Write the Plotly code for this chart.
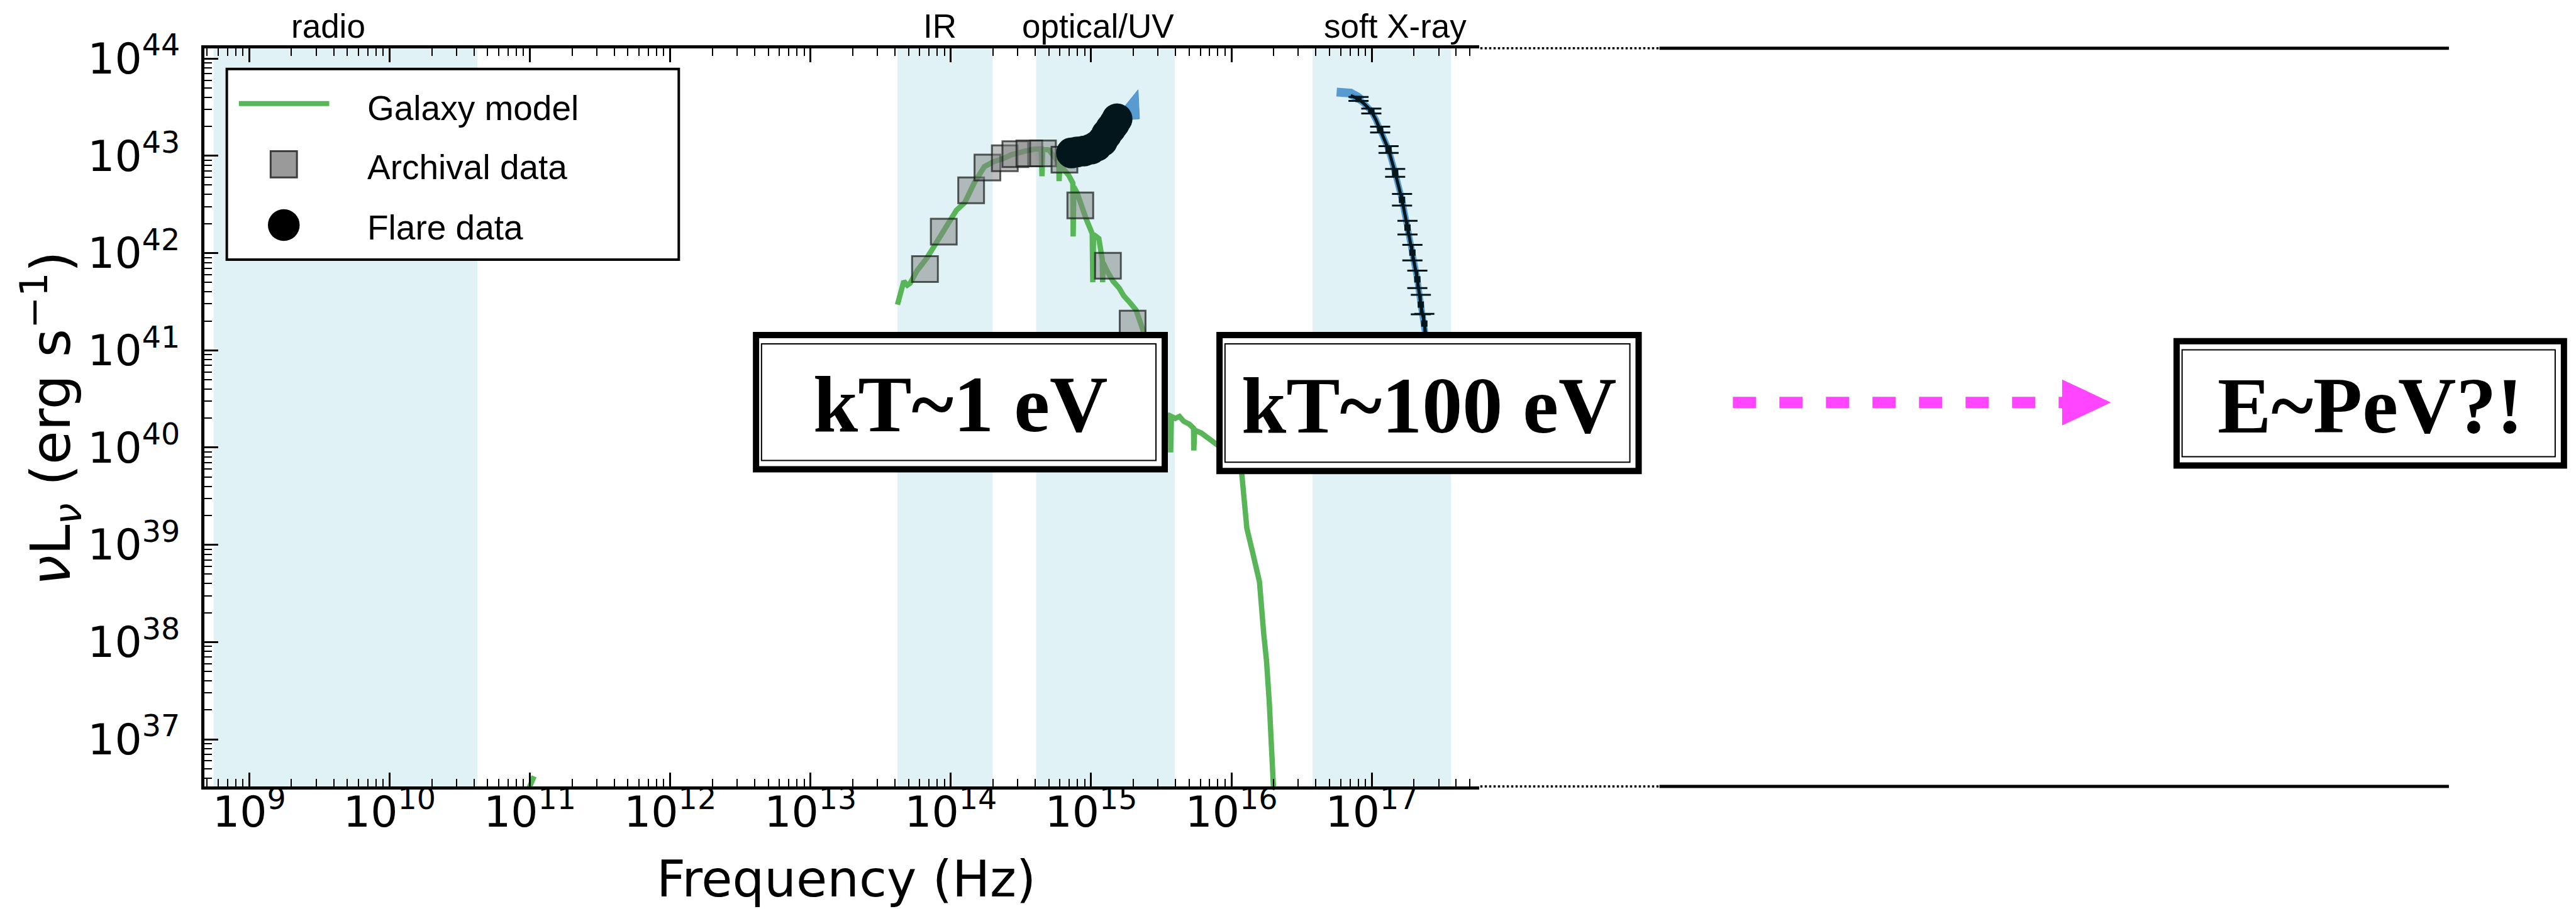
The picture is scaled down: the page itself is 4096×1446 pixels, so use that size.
import numpy as np
import plotly.graph_objects as go

nan = np.nan

# ---------------- data (log10 values) ----------------
# Galaxy model (log10 nu [Hz], log10 nuL_nu [erg/s])
galaxy_lognu = [10.96, 11.03, nan, 13.62, 13.645, 13.665, 13.69, 13.71, 13.76, 13.83, 13.92, 14.00,
                14.04, 14.10, 14.17, 14.24, 14.305, 14.37, 14.43, 14.52, 14.60, 14.645, 14.650,
                14.655, 14.70, 14.77, 14.772, 14.778, 14.84, 14.87, 14.872, 14.877, 14.90, 14.935,
                14.965, 15.008, 15.012, 15.018, 15.055, 15.08, 15.082, 15.086, 15.12, 15.157,
                15.20, 15.233, 15.277, 15.32, 15.367, 15.40, 15.45, 15.50, 15.52, 15.55, 15.565,
                15.567, 15.572, 15.60, 15.63, 15.66, 15.70, 15.73, 15.732, 15.738, 15.785, 15.83,
                15.88, 15.93, 16.00, 16.07, 16.09, 16.11, 16.15, 16.20, 16.23, 16.25, 16.27,
                16.29, 16.30, 16.31]
galaxy_logL = [36.38, 36.62, nan, 41.47, 41.58, 41.71, 41.67, 41.69, 41.82, 41.95, 42.16, 42.36,
               42.44, 42.52, 42.73, 42.89, 42.94, 42.97, 43.01, 43.045, 43.07, 43.07, 42.79,
               43.07, 43.06, 42.93, 42.74, 42.91, 42.80, 42.72, 42.17, 42.68, 42.62, 42.46,
               42.35, 42.20, 41.70, 42.19, 42.15, 41.93, 41.70, 41.90, 41.80, 41.71,
               41.64, 41.56, 41.49, 41.415, 41.22, 41.04, 40.75, 40.45, 40.34, 40.33, 40.30,
               39.95, 40.32, 40.30, 40.32, 40.27, 40.24, 40.20, 39.97, 40.18, 40.15, 40.10,
               40.06, 40.00, 39.92, 39.79, 39.45, 39.17, 38.93, 38.62, 38.09, 37.81, 37.38,
               36.85, 36.53, 36.20]

# Archival data (squares)
archival_lognu = [13.816, 13.950, 14.145, 14.261, 14.385, 14.46, 14.56, 14.657, 14.81, 14.923, 15.12, 15.296]
archival_logL = [41.836, 42.22, 42.646, 42.88, 42.975, 43.017, 43.026, 43.026, 42.96, 42.49, 41.87, 41.275]

# Flare data (optical/UV circles)
flare_lognu = [14.86, 14.90, 14.95, 15.00, 15.04, 15.08, 15.11, 15.14, 15.165, 15.185]
flare_logL = [43.03, 43.04, 43.05, 43.07, 43.10, 43.15, 43.22, 43.28, 43.33, 43.38]

# Optical/UV blackbody uncertainty (blue fan)
uvfit_lognu = [15.24, 15.335, 15.345, 15.25]
uvfit_logL = [43.51, 43.68, 43.38, 43.37]

# Soft X-ray flare data
xray_lognu = [16.906, 16.997, 17.06, 17.12, 17.167, 17.216, 17.255, 17.29, 17.325, 17.35, 17.375]
xray_logL = [43.585, 43.46, 43.27, 43.065, 42.825, 42.548, 42.262, 42.005, 41.73, 41.47, 41.275]
xray_err_dex = [0.02, 0.025, 0.03, 0.035, 0.04, 0.06, 0.07, 0.08, 0.09, 0.10, 0.10]

# Soft X-ray model line and its uncertainty band
xmodel_lognu = [16.85, 16.906, 16.95, 16.997, 17.03, 17.06, 17.09, 17.12, 17.167, 17.216, 17.255,
                17.29, 17.325, 17.35, 17.375, 17.40]
xmodel_logL = [43.62, 43.585, 43.53, 43.46, 43.37, 43.27, 43.17, 43.065, 42.825, 42.548, 42.262,
               42.005, 41.73, 41.47, 41.275, 41.00]
xband_lognu = [16.75, 16.80, 16.85, 16.90, 16.93]
xband_logL = [43.655, 43.66, 43.645, 43.605, 43.57]

# Shaded wavebands (Hz)
band_names = ["radio", "IR", "optical/UV", "soft X-ray"]
band_lo = [5.57e8, 4.17e13, 4.06e14, 3.78e16]
band_hi = [4.22e10, 1.99e14, 3.96e15, 3.68e17]
band_label_nu = [3.65e9, 8.4e13, 1.12e15, 1.47e17]

# Axis ticks
x_exponents = list(range(9, 18))
y_exponents = list(range(37, 45))

# Text boxes
box_texts = ["kT~1 eV", "kT~100 eV", "E~PeV?!"]
legend_labels = ["Galaxy model", "Archival data", "Flare data"]

# ---------------- helpers ----------------
W_REF, H_REF = 4702.0, 1660.0


def PX(x):
    return x / W_REF


def PY(y):
    return 1.0 - y / H_REF


def tenpow(a):
    return np.power(10.0, np.array(a, dtype=float))


GREEN = "rgb(88,182,88)"
BAND = "#e0f2f5"
DARK = "#03161b"
BLUE = "rgba(72,145,205,0.9)"
MAGENTA = "#ff45ff"

fig = go.Figure()

# Galaxy model
fig.add_trace(go.Scatter(x=tenpow(galaxy_lognu), y=tenpow(galaxy_logL), mode="lines",
                         line=dict(color=GREEN, width=8.5), connectgaps=False,
                         showlegend=False, hoverinfo="skip"))
# Archival squares
fig.add_trace(go.Scatter(x=tenpow(archival_lognu), y=tenpow(archival_logL), mode="markers",
                         marker=dict(symbol="square", size=41, color="rgba(128,128,128,0.5)",
                                     line=dict(color="rgba(20,25,25,0.7)", width=3)),
                         showlegend=False, hoverinfo="skip"))
# UV fit fan
fig.add_trace(go.Scatter(x=tenpow(uvfit_lognu), y=tenpow(uvfit_logL), mode="lines",
                         fill="toself", fillcolor=BLUE, line=dict(color=BLUE, width=1),
                         showlegend=False, hoverinfo="skip"))
# Flare circles
fig.add_trace(go.Scatter(x=tenpow(flare_lognu), y=tenpow(flare_logL), mode="markers",
                         marker=dict(symbol="circle", size=49, color=DARK, line=dict(width=0)),
                         showlegend=False, hoverinfo="skip"))
# X-ray model band
fig.add_trace(go.Scatter(x=tenpow(xband_lognu), y=tenpow(xband_logL), mode="lines",
                         line=dict(color=BLUE, width=14), showlegend=False, hoverinfo="skip"))
fig.add_trace(go.Scatter(x=tenpow(xmodel_lognu), y=tenpow(xmodel_logL), mode="lines",
                         line=dict(color=BLUE, width=10), showlegend=False, hoverinfo="skip"))
fig.add_trace(go.Scatter(x=tenpow(xmodel_lognu), y=tenpow(xmodel_logL), mode="lines",
                         line=dict(color=DARK, width=5), showlegend=False, hoverinfo="skip"))
# X-ray data
xl = np.array(xray_logL)
xe = np.array(xray_err_dex)
y_vals = tenpow(xl)
err_plus = y_vals * (np.power(10.0, xe) - 1.0)
err_minus = y_vals * (1.0 - np.power(10.0, -xe))
fig.add_trace(go.Scatter(x=tenpow(xray_lognu), y=y_vals, mode="markers",
                         marker=dict(symbol="square", size=10, color=DARK),
                         error_y=dict(type="data", symmetric=False, array=err_plus,
                                      arrayminus=err_minus, color=DARK, thickness=3, width=16),
                         showlegend=False, hoverinfo="skip"))

shapes = []
annotations = []

# wavebands
for lo, hi in zip(band_lo, band_hi):
    shapes.append(dict(type="rect", xref="x", yref="y domain", x0=lo, x1=hi, y0=0, y1=1,
                       fillcolor=BAND, line=dict(width=0), layer="below"))
for name, xn in zip(band_names, band_label_nu):
    annotations.append(dict(text=name, xref="x", yref="paper", x=float(np.log10(xn)), y=PY(48),
                            xanchor="center", yanchor="middle", showarrow=False,
                            font=dict(family="Liberation Sans", size=53, color="black")))

# extended axis lines (dotted then solid)
for yy in (88, 1436):
    shapes.append(dict(type="line", xref="paper", yref="paper", x0=PX(2702), x1=PX(3029),
                       y0=PY(yy), y1=PY(yy), line=dict(color="black", width=3.5, dash="dot"),
                       layer="above"))
    shapes.append(dict(type="line", xref="paper", yref="paper", x0=PX(3029), x1=PX(4470),
                       y0=PY(yy), y1=PY(yy), line=dict(color="black", width=5), layer="above"))

# legend (drawn manually)
shapes.append(dict(type="rect", xref="paper", yref="paper", x0=PX(414), x1=PX(1239),
                   y0=PY(474), y1=PY(126), fillcolor="white",
                   line=dict(color="black", width=4), layer="above"))
shapes.append(dict(type="line", xref="paper", yref="paper", x0=PX(436), x1=PX(601),
                   y0=PY(189), y1=PY(189), line=dict(color=GREEN, width=8), layer="above"))
shapes.append(dict(type="rect", xref="paper", yref="paper", x0=PX(494), x1=PX(542),
                   y0=PY(324), y1=PY(276), fillcolor="#9a9a9a",
                   line=dict(color="#3c3c3c", width=3), layer="above"))
shapes.append(dict(type="circle", xref="paper", yref="paper", x0=PX(489), x1=PX(547),
                   y0=PY(440), y1=PY(382), fillcolor="black",
                   line=dict(color="black", width=0), layer="above"))
for lab, yy in zip(legend_labels, (198, 305, 415)):
    annotations.append(dict(text=lab, xref="paper", yref="paper", x=PX(668), y=PY(yy),
                            xanchor="left", yanchor="middle", showarrow=False,
                            font=dict(family="Liberation Sans", size=55, color="black")))

# text boxes
boxes = [(1380, 2126, 612, 857), (2226, 2991, 612, 860), (3973, 4680, 623, 850)]
for (x0, x1, y0, y1), txt in zip(boxes, box_texts):
    shapes.append(dict(type="rect", xref="paper", yref="paper", x0=PX(x0), x1=PX(x1),
                       y0=PY(y1), y1=PY(y0), fillcolor="white",
                       line=dict(color="black", width=10), layer="above"))
    shapes.append(dict(type="rect", xref="paper", yref="paper", x0=PX(x0 + 10), x1=PX(x1 - 16),
                       y0=PY(y1 - 16), y1=PY(y0 + 16), fillcolor="rgba(0,0,0,0)",
                       line=dict(color="black", width=2), layer="above"))
    annotations.append(dict(text=txt, xref="paper", yref="paper", x=PX((x0 + x1) / 2.0),
                            y=PY((y0 + y1) / 2.0 + 4), xanchor="center", yanchor="middle",
                            showarrow=False,
                            font=dict(family="Liberation Serif", size=128, color="black",
                                      weight="bold")))

# magenta dashed arrow
shapes.append(dict(type="line", xref="paper", yref="paper", x0=PX(3163), x1=PX(3770),
                   y0=PY(735), y1=PY(735),
                   line=dict(color=MAGENTA, width=18, dash="37px,37px"), layer="above"))
shapes.append(dict(type="path", xref="paper", yref="paper",
                   path="M {:.5f},{:.5f} L {:.5f},{:.5f} L {:.5f},{:.5f} Z".format(
                       PX(3764), PY(693), PX(3853), PY(735), PX(3764), PY(777)),
                   fillcolor=MAGENTA, line=dict(width=0), layer="above"))

# axis titles
annotations.append(dict(text="Frequency (Hz)", xref="paper", yref="paper", x=PX(1545), y=PY(1606),
                        xanchor="center", yanchor="middle", showarrow=False,
                        font=dict(family="DejaVu Sans", size=80, color="black")))
annotations.append(dict(text="<i>ν</i>L<sub><i>ν</i></sub> (erg s<sup>−1</sup>)", xref="paper",
                        yref="paper", x=PX(92), y=PY(764), xanchor="center", yanchor="middle",
                        textangle=-90, showarrow=False,
                        font=dict(family="DejaVu Sans", size=87, color="black")))

x_tickvals = [10.0 ** e for e in x_exponents]
x_ticktext = ["10<sup>%d</sup>" % e for e in x_exponents]
y_tickvals = [10.0 ** e for e in y_exponents]
y_ticktext = ["10<sup>%d</sup>" % e for e in y_exponents]
x_minor = [m * 10.0 ** e for e in range(8, 18) for m in range(2, 10)]
y_minor = [m * 10.0 ** e for e in range(36, 45) for m in range(2, 10)]

tickfont = dict(family="DejaVu Sans", size=68, color="black")

fig.update_layout(
    width=4096, height=1446,
    margin=dict(l=0, r=0, t=0, b=0, pad=0, autoexpand=False),
    paper_bgcolor="white", plot_bgcolor="white",
    showlegend=False,
    xaxis=dict(type="log", range=[8.680, 17.766], domain=[PX(373), PX(2700)],
               automargin=False,
               showline=True, linecolor="black", linewidth=5, mirror="ticks",
               ticks="inside", ticklen=22, tickwidth=2.5, tickcolor="black",
               tickmode="array", tickvals=x_tickvals, ticktext=x_ticktext,
               tickfont=tickfont, ticklabelstandoff=-22,
               minor=dict(ticks="inside", ticklen=12, tickwidth=2, tickcolor="black",
                          tickmode="array", tickvals=x_minor),
               showgrid=False, zeroline=False, anchor="y"),
    yaxis=dict(type="log", range=[36.516, 44.107], domain=[PY(1436), PY(88)],
               automargin=False,
               showline=True, linecolor="black", linewidth=5, mirror=False,
               ticks="inside", ticklen=22, tickwidth=2.5, tickcolor="black",
               tickmode="array", tickvals=y_tickvals, ticktext=y_ticktext,
               tickfont=tickfont, ticklabelstandoff=20,
               minor=dict(ticks="inside", ticklen=12, tickwidth=2, tickcolor="black",
                          tickmode="array", tickvals=y_minor),
               showgrid=False, zeroline=False, anchor="x"),
    shapes=shapes,
    annotations=annotations,
)

fig.write_html("out.html")
